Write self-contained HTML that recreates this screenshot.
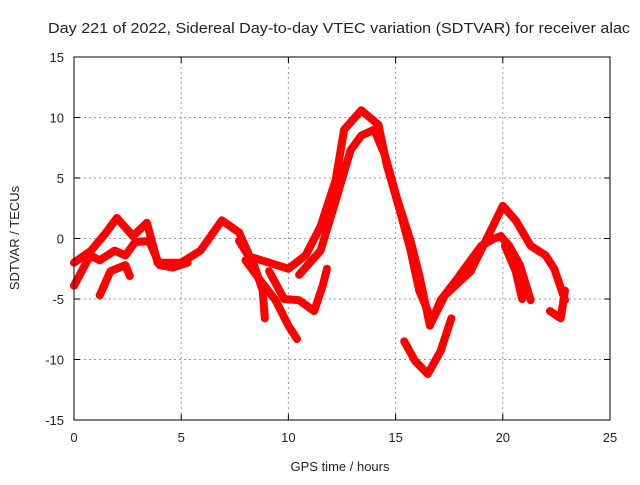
<!DOCTYPE html>
<html><head><meta charset="utf-8"><style>
body{margin:0;background:#fff}
svg text{font-family:"Liberation Sans",sans-serif;font-size:13px;fill:#222}
</style></head><body>
<svg id="c" width="640" height="480">
<text x="48" y="33" textLength="582" lengthAdjust="spacingAndGlyphs" style="font-size:15px">Day 221 of 2022, Sidereal Day-to-day VTEC variation (SDTVAR) for receiver alac</text>
<g id="grid"></g><g id="series"></g><g id="axes"></g>
<text x="340" y="471" text-anchor="middle">GPS time / hours</text>
<text transform="translate(19,238) rotate(-90)" text-anchor="middle">SDTVAR / TECUs</text>
</svg>
<script>
const xTicks=[0,5,10,15,20,25];
const yTicks=[15,10,5,0,-5,-10,-15];
const t1x=[0,0.8,1.5,2.0,2.75,3.4,3.9,5,5.9,6.9,7.7,8.2,9.1,10,10.8,11.5,12.2,12.6,13.4,14.2,14.6,15.2,15.7,16.1,16.7,17.3,18.5,19.2,20,20.6,21.3,22,22.4,22.9];
const t1y=[-2,-1,0.5,1.7,0.2,1.3,-2,-2,-1,1.5,0.5,-1.5,-2,-2.5,-1.4,1,4.8,9,10.6,9.4,6,2.3,-1,-4.3,-6.8,-4.7,-2.7,-0.2,2.7,1.5,-0.6,-1.4,-2.5,-5.1];
const t2x=[10.5,11.5,12.2,12.9,13.4,14.0,14.5,15.1,15.7,16.1,16.6,17.1,17.8,18.5,19,19.6,19.9,20.3,20.8,21.3];
const t2y=[-3,-1,3.1,7.3,8.5,9,6.9,3.1,-0.2,-3,-7.2,-5.1,-3.5,-1.8,-0.6,0,0.2,-0.6,-2.2,-5.1];
const t3x=[0,0.75,1.2,1.9,2.4,2.85,3.5,4,4.6,5.3];
const t3y=[-3.9,-1.4,-1.8,-1,-1.4,-0.3,-0.2,-2.2,-2.4,-2];
const t4x=[1.2,1.7,2.4,2.6];
const t4y=[-4.7,-2.7,-2.2,-3.1];
const t5x=[7.7,8.4,8.8,8.9];
const t5y=[-0.2,-2.2,-4.3,-6.6];
const t6x=[8,8.7,9.4,10,10.4];
const t6y=[-1.8,-3.5,-5.1,-7.2,-8.3];
const t7x=[9.1,9.8,10.5,11.2,11.6,11.8];
const t7y=[-2.7,-5,-5.1,-6,-3.9,-2.5];
const t8x=[15.4,15.9,16.5,17.1,17.6];
const t8y=[-8.5,-10.1,-11.2,-9.3,-6.6];
const t9x=[20.1,20.6,20.9];
const t9y=[-0.6,-2.7,-5];
const t10x=[22.2,22.7,22.9];
const t10y=[-6,-6.6,-4.3];
const tracks=[[t1x,t1y],[t2x,t2y],[t3x,t3y],[t4x,t4y],[t5x,t5y],[t6x,t6y],[t7x,t7y],[t8x,t8y],[t9x,t9y],[t10x,t10y]];
const X0=74,X1=610,Y0=420,Y1=57;
const sx=v=>X0+(v-0)/25*(X1-X0);
const sy=v=>Y0-(v+15)/30*(Y0-Y1);
const NS="http://www.w3.org/2000/svg";
const grid=document.getElementById('grid'),axes=document.getElementById('axes'),ser=document.getElementById('series');
function mk(tag,at,parent){const e=document.createElementNS(NS,tag);for(const k in at)e.setAttribute(k,at[k]);parent.appendChild(e);return e;}
xTicks.forEach(v=>{
  if(v>0&&v<25){const g=mk('line',{x1:sx(v),x2:sx(v),y1:Y1,y2:Y0,stroke:'#999','stroke-dasharray':'2,3'},grid);
  
  }
  const t=mk('text',{x:sx(v),y:Y0+22,'text-anchor':'middle'},axes);t.textContent=v;
  
  
  mk('line',{x1:sx(v),x2:sx(v),y1:Y0,y2:Y0-6,stroke:'#000'},axes);
  mk('line',{x1:sx(v),x2:sx(v),y1:Y1,y2:Y1+6,stroke:'#000'},axes);
});
yTicks.forEach(v=>{
  if(v>-15&&v<15){const g=mk('line',{x1:X0,x2:X1,y1:sy(v),y2:sy(v),stroke:'#999','stroke-dasharray':'2,3'},grid);
  
  }
  const t=mk('text',{x:X0-10,y:sy(v)+5,'text-anchor':'end'},axes);t.textContent=v;
  
  
  mk('line',{x1:X0,x2:X0+6,y1:sy(v),y2:sy(v),stroke:'#000'},axes);
  mk('line',{x1:X1,x2:X1-6,y1:sy(v),y2:sy(v),stroke:'#000'},axes);
});
const fr=mk('rect',{x:X0,y:Y1,width:X1-X0,height:Y0-Y1,fill:'none',stroke:'#000'},axes);


tracks.forEach(([xs,ys])=>{
  const pts=xs.map((x,i)=>sx(x)+','+sy(ys[i])).join(' ');
  const p=mk('polyline',{points:pts,fill:'none',stroke:'#f00','stroke-width':8,'stroke-linejoin':'round','stroke-linecap':'round'},ser);
  
  
});
</script>
</body></html>
